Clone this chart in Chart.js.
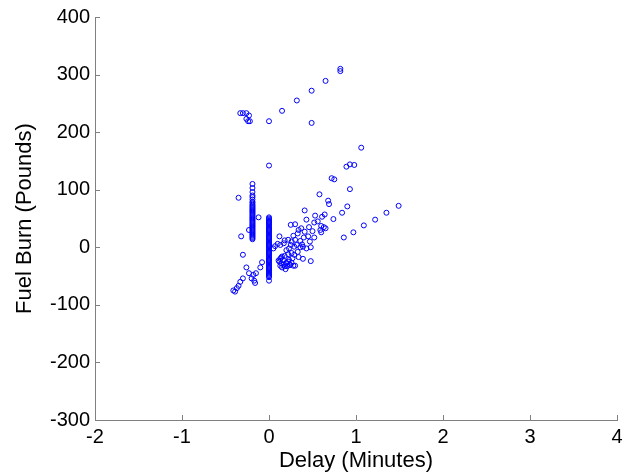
<!DOCTYPE html>
<html>
<head>
<meta charset="utf-8">
<script src="https://cdn.jsdelivr.net/npm/chart.js@4.4.1/dist/chart.umd.min.js"></script>
<style>
  html, body { margin: 0; background: #fff; }
</style>
</head>
<body>
<canvas id="chart" width="630" height="476"></canvas>
<script>
// Axis ticks
const xTicks = [-2, -1, 0, 1, 2, 3, 4];
const yTicks = [-300, -200, -100, 0, 100, 200, 300, 400];

// Column of flights at delay 0 (fuel burn values)
const zeroDelayFuel = [-58, -52, -50, -48, -46, -44, -42, -40, -38, -36, -34, -32, -30, -28, -26, -24, -22, -20,
  -18, -16, -14, -12, -10, -8, -6, -4, -2, 0, 2, 4, 6, 8, 10, 12, 14, 16, 18, 20, 22, 24, 26, 28, 30, 32,
  34, 36, 38, 40, 42, 44, 46, 48, 50, 52];

// Column of flights at delay ~ -0.19
const leftColumnDelay = -0.19;
const leftColumnFuel = [110, 103, 96, 90, 87, 83, 79, 77, 74, 72, 70, 68, 66, 64, 62, 60, 58, 56, 54, 52,
  50, 48, 46, 44, 42, 40, 38, 36, 34, 32, 30, 28, 26, 24, 22, 20, 18, 16, 14];

// Remaining scattered flights
const otherDelay = [
  -0.33, -0.30, -0.26, -0.23, -0.26, -0.24, -0.22, 0, 0.15, 0.32, 0.49, 0.49, 0.65, 0.82, 0.82,
  1.06, 0, 0.89, 0.93, 0.98,
  0.72, 0.75, 0.93, 0.58, 0.68, 0.69, 0.90, 0.84, 1.49, 1.35, 1.22, 1.09, 0.97, 0.86, 0.74, 0.41,
  0.53, 0.61, 0.64, 0.43, 0.52, 0.60, 0.63, 0.65, 0.59, 0.60, 0.52, 0.25, 0.34, 0.37, 0.33, 0.41,
  0.45, 0.40, 0.36, 0.30, 0.12,
  0.18, 0.17, 0.22, 0.26, 0.25, 0.29, 0.32, 0.36, 0.39, 0.43, 0.48, 0.47,
  0.07, 0.05, 0.10, 0.13,
  0.20, 0.23, 0.26, 0.29, 0.22, 0.18, 0.27, 0.34, 0.39, 0.48,
  0.15, 0.13, 0.16, 0.12, 0.14, 0.17, 0.13, 0.15, 0.18, 0.20, 0.22, 0.24, 0.21, 0.19, 0.26, 0.28,
  0.23, 0.20, 0.24, 0.30, 0.14, 0.11,
  0.30, 0.46, 0.56, 0.50, 0.28, 0.38, 0.33,
  -0.35, -0.12, -0.23, -0.32, -0.30, -0.08, -0.10, -0.26, -0.23, -0.18, -0.15, -0.20, -0.17, -0.16,
  -0.30, -0.33, -0.35, -0.37, -0.39, -0.41
];
const otherFuel = [
  233, 233, 233, 229, 223, 219, 219, 219, 237, 255, 272, 216, 289, 310, 306,
  173, 142, 140, 144, 143,
  120, 118, 101, 92, 81, 75, 71, 60, 72, 60, 48, 38, 26, 17, 49, 64,
  55, 53, 57, 48, 43, 37, 35, 33, 30, 26, 17, 39, 30, 33, 24, 27,
  19, 17, 11, 13, 19,
  12, 7, 13, 10, 4, 1, 4, 0, 1, -2, 0, 10,
  2, -2, 6, 4,
  -5, -2, -10, -13, -12, -15, -19, -17, -20, -24,
  -16, -20, -22, -25, -28, -30, -32, -35, -33, -27, -25, -30, -33, -38, -27, -32,
  -22, -28, -31, -32, -18, -23,
  40, 35, 45, 28, 20, 5, -8,
  86, 52, 30, 19, -13, -26, -35, -35, -45, -48, -45, -54, -58, -62,
  -54, -60, -67, -71, -77, -75
];

// Build point list for the library
const points = [];
zeroDelayFuel.forEach(f => points.push({ x: 0, y: f }));
leftColumnFuel.forEach(f => points.push({ x: leftColumnDelay, y: f }));
otherDelay.forEach((d, i) => points.push({ x: d, y: otherFuel[i] }));

const axisGray = "#808080";
const fontFamily = "'Liberation Sans', Arial, Helvetica, sans-serif";

// inner tick marks (MATLAB style)
const innerTicks = {
  id: "innerTicks",
  afterDraw(chart) {
    const { ctx, chartArea, scales } = chart;
    ctx.save();
    ctx.strokeStyle = axisGray;
    ctx.lineWidth = 1;
    xTicks.forEach(v => {
      const px = Math.round(scales.x.getPixelForValue(v)) + 0.5;
      ctx.beginPath();
      ctx.moveTo(px, chartArea.bottom);
      ctx.lineTo(px, chartArea.bottom - 5);
      ctx.stroke();
    });
    yTicks.forEach(v => {
      const py = Math.round(scales.y.getPixelForValue(v)) + 0.5;
      ctx.beginPath();
      ctx.moveTo(chartArea.left, py);
      ctx.lineTo(chartArea.left + 5, py);
      ctx.stroke();
    });
    ctx.restore();
  }
};

new Chart(document.getElementById("chart"), {
  type: "scatter",
  data: {
    datasets: [{
      data: points,
      pointStyle: "circle",
      pointRadius: 2.5,
      pointBorderWidth: 1,
      pointBorderColor: "#0000ff",
      pointBackgroundColor: "rgba(0,0,0,0)"
    }]
  },
  options: {
    responsive: false,
    animation: false,
    devicePixelRatio: 1,
    layout: { padding: { top: 17, right: 13, left: 0, bottom: 0 } },
    plugins: { legend: { display: false }, tooltip: { enabled: false } },
    scales: {
      x: {
        type: "linear",
        min: -2,
        max: 4,
        afterBuildTicks: s => { s.ticks = xTicks.map(v => ({ value: v })); },
        afterFit: s => { s.height = 56; },
        ticks: { color: "#000", font: { family: fontFamily, size: 20 }, padding: 5 },
        grid: { drawOnChartArea: false, drawTicks: false },
        border: { color: axisGray, width: 1 },
        title: {
          display: true,
          text: "Delay (Minutes)",
          color: "#000",
          font: { family: fontFamily, size: 22, lineHeight: 1.2 },
          padding: { top: 0, bottom: 2 }
        }
      },
      y: {
        type: "linear",
        min: -300,
        max: 400,
        afterBuildTicks: s => { s.ticks = yTicks.map(v => ({ value: v })); },
        afterFit: s => { s.width = 95; },
        ticks: { color: "#000", font: { family: fontFamily, size: 20 }, padding: 5 },
        grid: { drawOnChartArea: false, drawTicks: false },
        border: { color: axisGray, width: 1 },
        title: {
          display: true,
          text: "Fuel Burn (Pounds)",
          color: "#000",
          font: { family: fontFamily, size: 22, lineHeight: 1.2 },
          padding: { top: 12, bottom: 0 }
        }
      }
    }
  },
  plugins: [innerTicks]
});
</script>
</body>
</html>
